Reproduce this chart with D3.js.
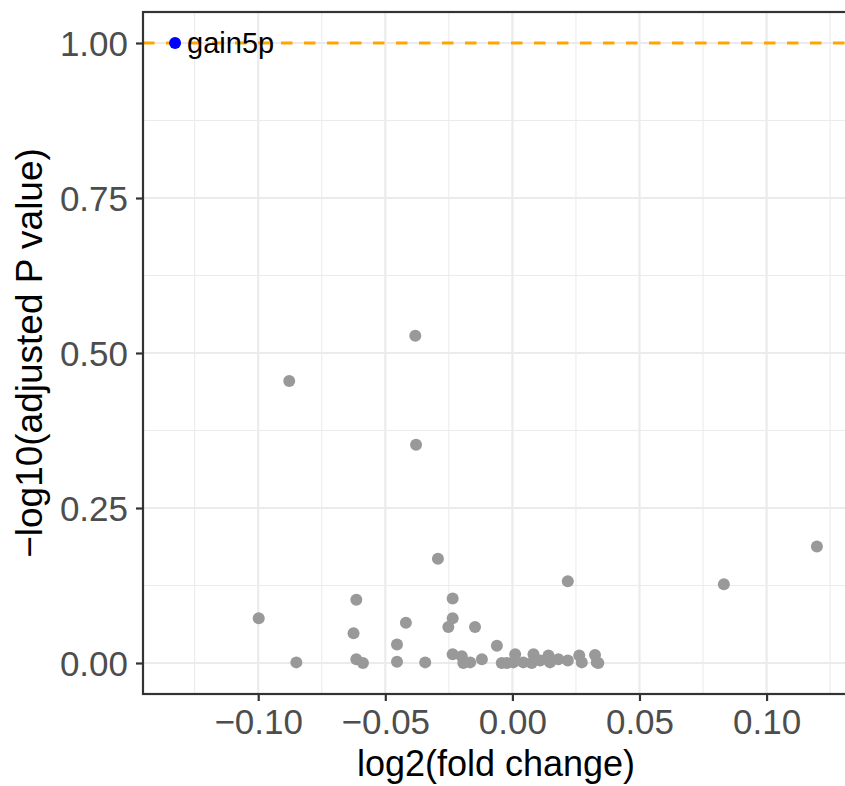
<!DOCTYPE html>
<html>
<head>
<meta charset="utf-8">
<script src="https://cdn.jsdelivr.net/npm/d3@7"></script>
<style>
  html, body { margin: 0; padding: 0; background: #fff; }
  svg { display: block; font-family: "Liberation Sans", Arial, sans-serif; }
</style>
</head>
<body>
<div id="chart"></div>
<script>
// ---- data ----
const foldChange = [
  -0.0878, -0.0382, -0.0379, -0.0293,
  -0.0998, -0.0850, -0.0614, -0.0625, -0.0614, -0.0588,
  -0.0419, -0.0454, -0.0454, -0.0343,
  -0.0235, -0.0235, -0.0252, -0.0235, -0.0147,
  -0.0199, -0.0193, -0.0166, -0.0120, -0.0061, -0.0042,
  -0.0022, 0.0011, 0.0004, 0.0043, 0.0083, 0.0076, 0.0109, 0.0142, 0.0148,
  0.0181, 0.0218, 0.0263, 0.0273, 0.0325, 0.0332, 0.0338,
  0.0218, 0.0832, 0.1198
];
const negLogP = [
  0.455, 0.528, 0.352, 0.168,
  0.072, 0.001, 0.102, 0.048, 0.006, 0.000,
  0.065, 0.030, 0.002, 0.001,
  0.104, 0.072, 0.058, 0.014, 0.058,
  0.011, 0.000, 0.001, 0.006, 0.028, 0.000,
  0.000, 0.014, 0.001, 0.001, 0.014, 0.000, 0.004, 0.012, 0.001,
  0.006, 0.004, 0.012, 0.001, 0.013, 0.001, 0.000,
  0.132, 0.127, 0.188
];
const sigLabels = ["gain5p"];
const sigFold = [-0.1327];
const sigP = [1.0];
const threshold = 1.0;
const xTicks = [-0.10, -0.05, 0.00, 0.05, 0.10];
const xTickLabels = ["\u22120.10", "\u22120.05", "0.00", "0.05", "0.10"];
const yTicks = [0.00, 0.25, 0.50, 0.75, 1.00];
const yTickLabels = ["0.00", "0.25", "0.50", "0.75", "1.00"];
const xTitle = "log2(fold change)";
const yTitle = "\u2212log10(adjusted P value)";

// ---- layout ----
const W = 845, H = 786;
const panel = { left: 143, right: 849, top: 12, bottom: 694 };

const allX = foldChange.concat(sigFold);
const xmin = d3.min(allX), xmax = d3.max(allX);
const xpad = (xmax - xmin) * 0.05;
const x = d3.scaleLinear().domain([xmin - xpad, xmax + xpad]).range([panel.left, panel.right]);
const y = d3.scaleLinear().domain([-0.05, 1.05]).range([panel.bottom, panel.top]);

const svg = d3.select("#chart").append("svg").attr("width", W).attr("height", H);

// panel background
svg.append("rect").attr("x", panel.left).attr("y", panel.top)
  .attr("width", panel.right - panel.left).attr("height", panel.bottom - panel.top)
  .attr("fill", "#fff");

const grid = svg.append("g");
const xMinor = [-0.125, -0.075, -0.025, 0.025, 0.075, 0.125];
const yMinor = [0.125, 0.375, 0.625, 0.875];
grid.selectAll(".xmin").data(xMinor).join("line")
  .attr("x1", d => x(d)).attr("x2", d => x(d))
  .attr("y1", panel.top).attr("y2", panel.bottom)
  .attr("stroke", "#EBEBEB").attr("stroke-width", 1.1);
grid.selectAll(".ymin").data(yMinor).join("line")
  .attr("y1", d => y(d)).attr("y2", d => y(d))
  .attr("x1", panel.left).attr("x2", panel.right)
  .attr("stroke", "#EBEBEB").attr("stroke-width", 1.1);
grid.selectAll(".xmaj").data(xTicks).join("line")
  .attr("x1", d => x(d)).attr("x2", d => x(d))
  .attr("y1", panel.top).attr("y2", panel.bottom)
  .attr("stroke", "#EBEBEB").attr("stroke-width", 2.2);
grid.selectAll(".ymaj").data(yTicks).join("line")
  .attr("y1", d => y(d)).attr("y2", d => y(d))
  .attr("x1", panel.left).attr("x2", panel.right)
  .attr("stroke", "#EBEBEB").attr("stroke-width", 2.2);

// threshold line
svg.append("line")
  .attr("x1", panel.left).attr("x2", panel.right)
  .attr("y1", y(threshold)).attr("y2", y(threshold))
  .attr("stroke", "#FFA500").attr("stroke-width", 2.9)
  .attr("stroke-dasharray", "11.5,11.5");

// points
svg.append("g").selectAll("circle").data(foldChange).join("circle")
  .attr("cx", d => x(d)).attr("cy", (d, i) => y(negLogP[i]))
  .attr("r", 6).attr("fill", "#999999");

svg.append("g").selectAll("circle").data(sigFold).join("circle")
  .attr("cx", d => x(d)).attr("cy", (d, i) => y(sigP[i]))
  .attr("r", 6).attr("fill", "#0000FF");

svg.append("g").selectAll("text").data(sigLabels).join("text")
  .attr("x", (d, i) => x(sigFold[i]) + 12)
  .attr("y", (d, i) => y(sigP[i]) + 10)
  .attr("font-size", 29).attr("fill", "#000")
  .text(d => d);

// panel border
svg.append("rect").attr("x", panel.left).attr("y", panel.top)
  .attr("width", panel.right - panel.left).attr("height", panel.bottom - panel.top)
  .attr("fill", "none").attr("stroke", "#333333").attr("stroke-width", 2.2);

// axes
const xAxis = svg.append("g").attr("transform", `translate(0,${panel.bottom})`)
  .call(d3.axisBottom(x).tickValues(xTicks).tickFormat((d, i) => xTickLabels[i]).tickSize(7).tickPadding(5));
const yAxis = svg.append("g").attr("transform", `translate(${panel.left},0)`)
  .call(d3.axisLeft(y).tickValues(yTicks).tickFormat((d, i) => yTickLabels[i]).tickSize(7).tickPadding(8));
[xAxis, yAxis].forEach(a => {
  a.select(".domain").remove();
  a.selectAll(".tick line").attr("stroke", "#333333").attr("stroke-width", 2.2);
  a.selectAll(".tick text").attr("fill", "#4D4D4D").attr("font-size", 35)
    .attr("font-family", "Liberation Sans, Arial, sans-serif");
});
xAxis.selectAll(".tick text").attr("dy", "0.8em");
yAxis.selectAll(".tick text").attr("dy", "0.35em");

// titles
svg.append("text").attr("x", (panel.left + panel.right) / 2).attr("y", 776)
  .attr("text-anchor", "middle").attr("font-size", 36).attr("fill", "#000")
  .text(xTitle);
svg.append("text")
  .attr("transform", `translate(42,${(panel.top + panel.bottom) / 2}) rotate(-90)`)
  .attr("text-anchor", "middle").attr("font-size", 37).attr("fill", "#000")
  .text(yTitle);
</script>
</body>
</html>
